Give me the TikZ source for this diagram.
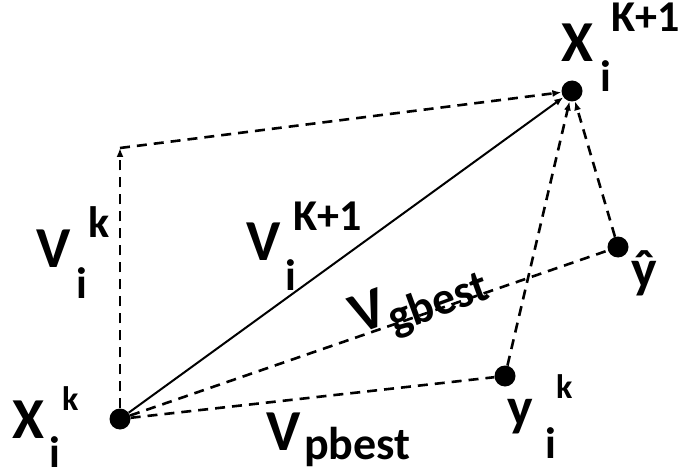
\documentclass[tikz,border=0pt]{standalone}
\usepackage{fontspec}
\setmainfont{Carlito}
\usetikzlibrary{arrows.meta}
\tikzset{
  dot/.style={circle,fill=black,inner sep=0pt,minimum size=21pt},
  dashline/.style={line width=2.6pt,dash pattern=on 10pt off 7pt},
  solidline/.style={line width=2pt},
  tip/.style={-{Latex[length=9pt,width=7pt]}},
  big/.style={font=\bfseries\fontsize{58}{60}\selectfont,inner sep=0pt,anchor=base west},
  scr/.style={font=\bfseries\fontsize{44}{46}\selectfont,inner sep=0pt,anchor=base west},
  scrs/.style={font=\bfseries\fontsize{34}{36}\selectfont,inner sep=0pt,anchor=base west},
}
\begin{document}
\begin{tikzpicture}[x=1pt,y=-1pt]
\useasboundingbox[fill=white] (0,0) rectangle (683,476);
% points
\node[dot] (xk) at (120,419) {};
\node[dot] (xk1) at (572,91) {};
\node[dot] (yhat) at (618,247) {};
\node[dot] (yk) at (505,376) {};
\coordinate (c) at (120,148);
% connectors
\draw[dashline,tip] (xk) -- (c);
\draw[dashline,tip] (c) -- (xk1);
\draw[solidline,tip] (xk) -- (xk1);
\draw[dashline] (xk) -- (yhat);
\draw[dashline] (xk) -- (yk);
\draw[dashline,tip] (yk) -- (xk1);
\draw[dashline,tip] (yhat) -- (xk1);
% X_i^k
\node[big] (lxk) at (12,438) {X};
\node[scr] (lxki) at (49,467) {i};
\node[scrs] (lxkk) at (62,410) {k};
% X_i^{K+1}
\node[big] (lxk1) at (561,62) {X};
\node[scr] (lxk1i) at (600,92) {i};
\node[scr] (lxk1k) at (611,32) {K+1};
% V_i^k
\node[big] (lvk) at (36,267) {V};
\node[scr] (lvki) at (76,298) {i};
\node[scr] (lvkk) at (88,237) {k};
% V_i^{K+1}
\node[big] (lvk1) at (246,260) {V};
\node[scr] (lvk1i) at (285,290) {i};
\node[scr] (lvk1k) at (293,230) {K+1};
% y_i^k
\node[font=\bfseries\fontsize{54}{56}\selectfont,inner sep=0pt,anchor=base west] (lyk) at (507,425) {y};
\node[scr] (lyki) at (545,458) {i};
\node[scrs] (lykk) at (556,398) {k};
% y hat
\node[font=\bfseries\fontsize{54}{56}\selectfont,inner sep=0pt,anchor=base west] (lyhat) at (631,287) {\^{y}};
% V_pbest
\node[big] (lvp) at (266,450) {V};
\node[font=\bfseries\fontsize{46}{48}\selectfont,inner sep=0pt,anchor=base west] (lvps) at (304,459) {pbest};
% V_gbest
\node[inner sep=0pt,anchor=base west,rotate=20] (lvg) at (358,335)
  {\bfseries\fontsize{58}{60}\selectfont V\raisebox{-11pt}{\fontsize{46}{48}\selectfont gbest}};
\end{tikzpicture}
\end{document}
